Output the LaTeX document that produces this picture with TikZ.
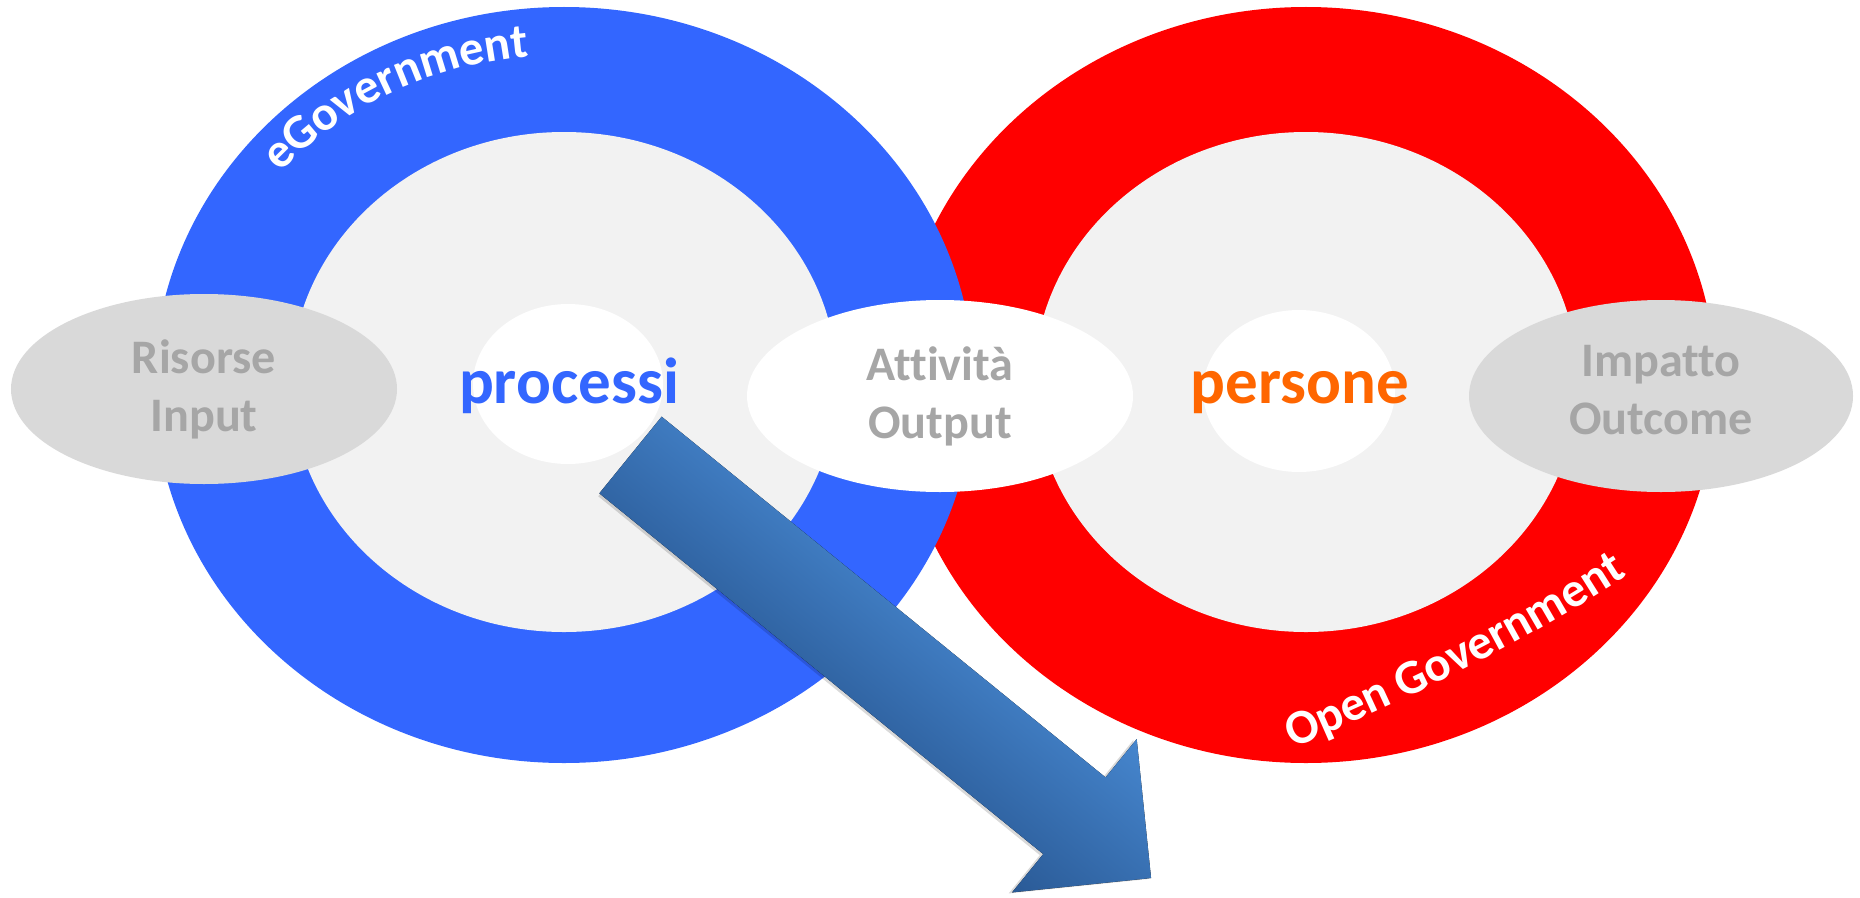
\documentclass[tikz,border=0pt]{standalone}
\usepackage{fontspec}
\setmainfont{Carlito}[Ligatures={NoCommon}]
\usepackage{tikz}
\usetikzlibrary{shapes.geometric,decorations.text}

\definecolor{ringblue}{HTML}{3366FF}
\definecolor{ringred}{HTML}{FF0000}
\definecolor{holegray}{HTML}{F2F2F2}
\definecolor{stagegray}{HTML}{D9D9D9}
\definecolor{labelgray}{HTML}{A6A6A6}
\definecolor{peopleorange}{HTML}{FF6600}
\definecolor{arrowlight}{RGB}{70,134,206}
\definecolor{arrowdark}{RGB}{42,90,150}

\newcommand{\ringfont}{\fontsize{13.9}{16}\selectfont\bfseries}

\tikzset{
  ring/.style={ellipse, inner sep=0pt, minimum width=8.2cm, minimum height=7.56cm},
  hole/.style={ellipse, inner sep=0pt, fill=holegray, minimum width=5.46cm, minimum height=5cm},
  stage/.style={ellipse, inner sep=0pt, minimum width=3.86cm, minimum height=1.9cm,
    align=center, text=labelgray, font=\fontsize{13.7}{16.5}\selectfont\bfseries},
  core/.style={ellipse, inner sep=0pt, fill=white, minimum width=1.9cm, minimum height=1.6cm},
  word/.style={anchor=base, font=\fontsize{18.5}{22}\selectfont\bfseries},
}

\begin{document}
\begin{tikzpicture}

\useasboundingbox (0,0) rectangle (18.6,8.97);

% the two rings
\node [ring, fill=ringred] (redring) at (13.06,5.12) {};
\node [ring, fill=ringblue] (bluering) at (5.64,5.12) {};
\node [hole] (bluehole) at (5.64,5.15) {};
\node [hole, minimum width=5.44cm] (redhole) at (13.06,5.15) {};

% stages
\node [stage, fill=stagegray] (input) at (2.04,5.08) {Risorse\\Input};
\node [stage, fill=white, minimum height=1.92cm] (output) at (9.40,5.01) {Attività\\Output};
\node [stage, fill=stagegray, minimum width=3.84cm, minimum height=1.92cm] (outcome) at (16.61,5.01) {};
\node [stage] (outcometext) at (16.61,5.07) {Impatto\\Outcome};

\node [core] (proccore) at (5.68,5.13) {};
\node [core, minimum width=1.92cm, minimum height=1.62cm] (perscore) at (12.99,5.06) {};

\node [word, text=ringblue] (processi) at (5.69,4.94) {processi};
\node [word, text=peopleorange] (persone) at (13.00,4.94) {persone};

% ring labels
\path [decorate, decoration={text along path, text align=center, text color=white,
  text={|\ringfont|eGovernment}}]
  (2.163,6.249) arc [start angle=160, end angle=77, x radius=3.7cm, y radius=3.3cm];

\path [decorate, decoration={text along path, text align=center, text color=white,
  text={|\ringfont|Open Government}}]
  (12.85,1.45) .. controls (13.95,1.92) and (15.15,2.47) .. (16.35,3.27);

% big arrow
\begin{scope}[transform canvas={shift={(6.305,4.42)}, rotate=-39.1}]
  \fill [black, opacity=0.15] (0.01,0.464) -- (5.70,0.464) -- (5.70,0.958) -- (6.688,-0.03)
    -- (5.70,-1.018) -- (5.70,-0.524) -- (0.01,-0.524) -- cycle;
  \fill [top color=arrowlight, bottom color=arrowdark] (0,0.494) -- (5.72,0.494) -- (5.72,0.988)
    -- (6.708,0) -- (5.72,-0.988) -- (5.72,-0.494) -- (0,-0.494) -- cycle;
\end{scope}

\end{tikzpicture}
\end{document}
